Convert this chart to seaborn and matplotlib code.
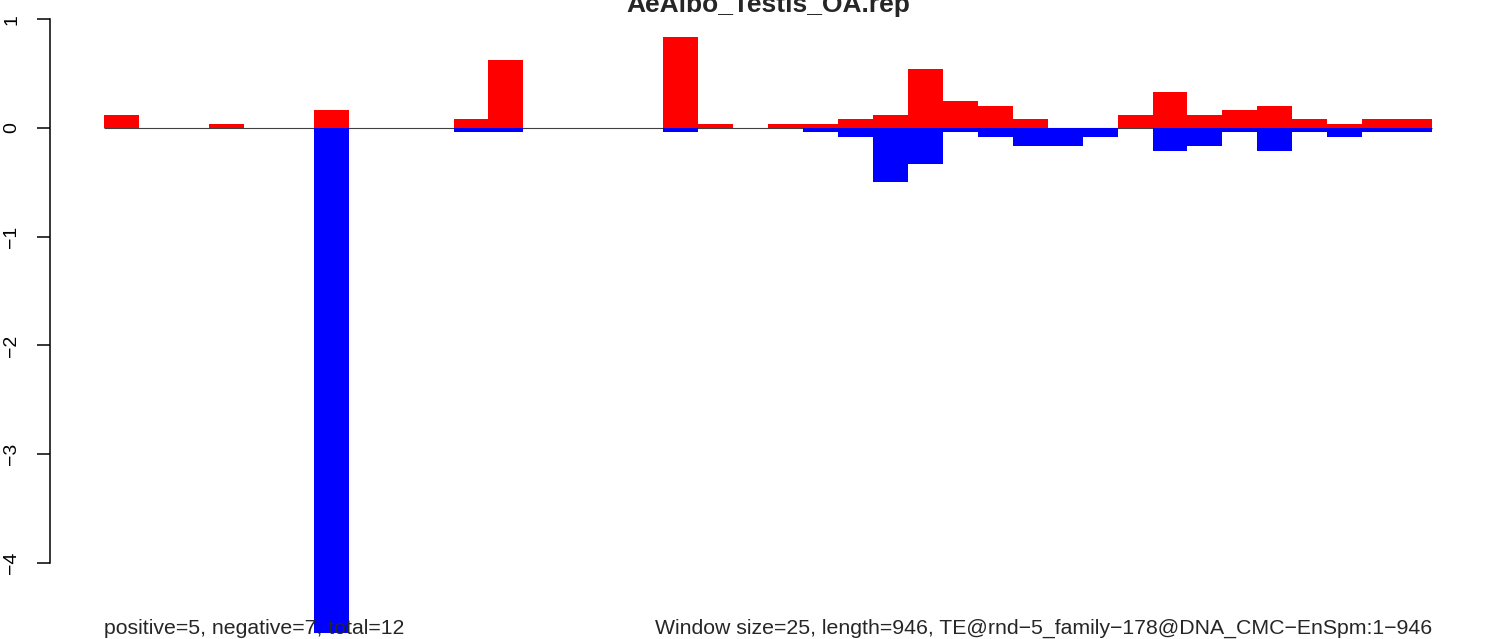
import numpy as np
import pandas as pd
import seaborn as sns
import matplotlib
matplotlib.use("Agg")
import matplotlib.pyplot as plt

# windows of 25 nt along a 946 nt TE -> 38 bins
bins = list(range(38))
# sense (positive) signal per window
pos = [0.12, 0, 0, 0.04, 0, 0, 0.17, 0, 0, 0,
       0.085, 0.63, 0, 0, 0, 0, 0.84, 0.04, 0, 0.04,
       0.04, 0.085, 0.12, 0.545, 0.25, 0.205, 0.085, 0, 0, 0.12,
       0.335, 0.12, 0.17, 0.205, 0.085, 0.04, 0.085, 0.085]
# antisense (negative) signal per window
neg = [0, 0, 0, 0, 0, 0, -4.65, 0, 0, 0,
       -0.04, -0.04, 0, 0, 0, 0, -0.04, 0, 0, 0,
       -0.04, -0.085, -0.5, -0.335, -0.04, -0.085, -0.17, -0.17, -0.085, 0,
       -0.21, -0.17, -0.04, -0.21, -0.04, -0.085, -0.04, -0.04]

title = "AeAlbo_Testis_OA.rep"
left_note = "positive=5, negative=7, total=12"
right_note = "Window size=25, length=946, TE@rnd\u22125_family\u2212178@DNA_CMC\u2212EnSpm:1\u2212946"

df = pd.DataFrame({"bin": bins, "pos": pos, "neg": neg})

sns.set_theme(style="white")
plt.rcParams["font.family"] = ["Liberation Sans", "DejaVu Sans"]

W, H = 1490, 639
fig = plt.figure(figsize=(W / 100, H / 100), dpi=100)
ax = fig.add_axes([50 / W, 0, (W - 50) / W, 1])

sns.barplot(data=df, x="bin", y="pos", color="#FF0000", saturation=1, width=1,
            linewidth=0, errorbar=None, ax=ax)
sns.barplot(data=df, x="bin", y="neg", color="#0000FF", saturation=1, width=1,
            linewidth=0, errorbar=None, ax=ax)
ax.hlines(0, -0.5, 37.5, color="#404040", lw=0.8, zorder=0.5)

# pixel mapping: bar width 34.95px, first bar edge at x=104, zero at y=128
pxu = 34.95
ax.set_xlim(-0.5 - 54 / pxu, -0.5 + (W - 104) / pxu)
ypu = 108.7
ax.set_ylim(-(H - 128) / ypu, 128 / ypu)

for s in ["top", "right", "bottom"]:
    ax.spines[s].set_visible(False)
ax.spines["left"].set_bounds(-4, 1)
ax.spines["left"].set_linewidth(1.1)
ax.spines["left"].set_color("black")
ax.set_xticks([])
ax.set_yticks([-4, -3, -2, -1, 0, 1])
ax.set_yticklabels(["\u22124", "\u22123", "\u22122", "\u22121", "0", "1"],
                   rotation=90, va="center")
ax.tick_params(axis="y", direction="out", length=9.4, width=1.1, pad=12,
               labelsize=14, colors="black", left=True)
ax.set_xlabel("")
ax.set_ylabel("")

fig.text(768 / W, 1 - 12 / H, title, ha="center", va="baseline",
         fontsize=19, fontweight="bold")
fig.text(104 / W, 5 / H, left_note, ha="left", va="baseline", fontsize=15.3, zorder=10)
fig.text(1432 / W, 5 / H, right_note, ha="right", va="baseline", fontsize=15.3, zorder=10)

fig.savefig("out.png", dpi=100)
